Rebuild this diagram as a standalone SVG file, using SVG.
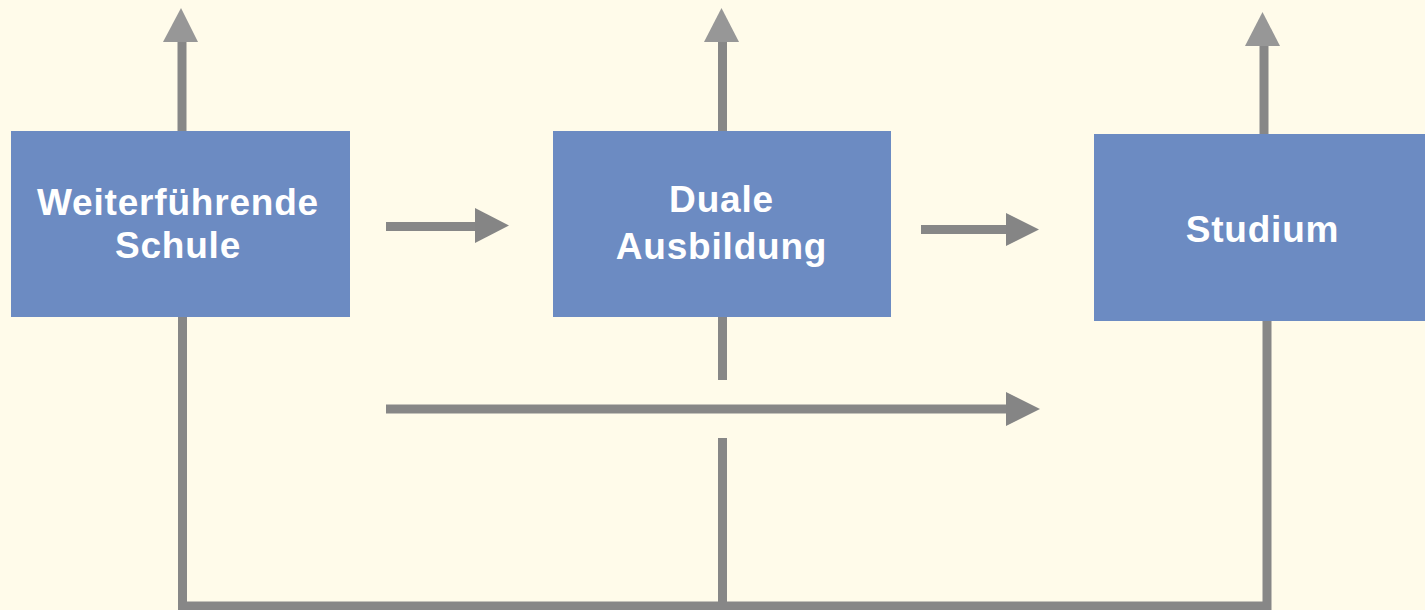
<svg xmlns="http://www.w3.org/2000/svg" width="1425" height="610" viewBox="0 0 1425 610">
  <style>
    .box { fill: #6c8bc2; }
    .label { font-family: "Liberation Sans", Arial, sans-serif; font-weight: bold; font-size: 37px; letter-spacing: 0.8px; fill: #ffffff; text-anchor: middle; }
    .line { fill: none; stroke: #878787; stroke-width: 9; stroke-linejoin: miter; stroke-linecap: butt; }
    .head-up { fill: #979797; }
    .head-right { fill: #858585; }
  </style>
  <rect x="0" y="0" width="1425" height="610" fill="#fffbea"/>

  <g id="connectors">
    <!-- outgoing arrows upward -->
    <path class="line" d="M182,131 V40"/>
    <polygon class="head-up" points="163,42 198,42 181,8"/>
    <path class="line" d="M722.5,131 V40"/>
    <polygon class="head-up" points="704,42 739,42 721.5,8"/>
    <path class="line" d="M1264,135 V44"/>
    <polygon class="head-up" points="1245,46 1280,46 1262.5,12"/>

    <!-- Schule to Ausbildung -->
    <path class="line" d="M386,226.5 H477"/>
    <polygon class="head-right" points="475,208 475,243 509,225.5"/>
    <!-- Ausbildung to Studium -->
    <path class="line" d="M921,229.5 H1008"/>
    <polygon class="head-right" points="1006,213 1006,246 1039,229.5"/>
    <!-- Schule directly to Studium -->
    <path class="line" d="M386,409 H1008"/>
    <polygon class="head-right" points="1006,392 1006,426 1040,409"/>

    <!-- return paths along the bottom -->
    <path class="line" d="M182.5,317 V606 H1267 V320"/>
    <path class="line" d="M722.5,317 V380"/>
    <path class="line" d="M722.5,438 V606"/>
  </g>

  <g id="schule">
    <rect class="box" x="11" y="131" width="339" height="186"/>
    <text class="label" x="178" y="215">Weiterführende</text>
    <text class="label" x="178" y="258">Schule</text>
  </g>

  <g id="ausbildung">
    <rect class="box" x="553" y="131" width="338" height="186"/>
    <text class="label" x="721.5" y="212">Duale</text>
    <text class="label" x="721.5" y="259">Ausbildung</text>
  </g>

  <g id="studium">
    <rect class="box" x="1094" y="134" width="331" height="187"/>
    <text class="label" x="1262.5" y="242">Studium</text>
  </g>
</svg>
